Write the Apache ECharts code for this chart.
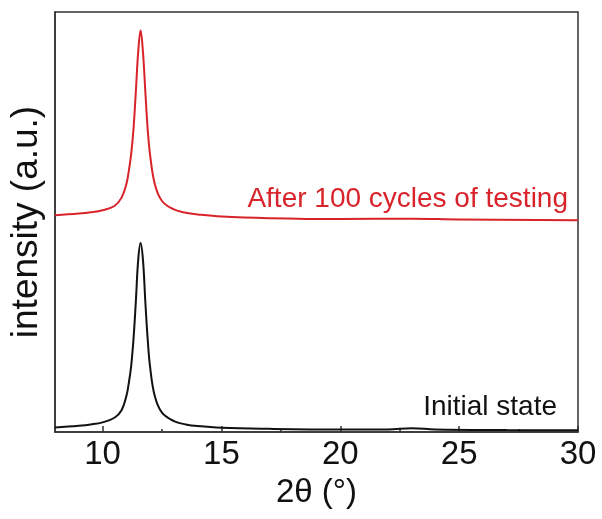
<!DOCTYPE html>
<html>
<head>
<meta charset="utf-8">
<script src="https://cdn.jsdelivr.net/npm/echarts@6/dist/echarts.min.js"></script>
<style>
  html, body { margin: 0; padding: 0; background: #fff; }
  #chart { width: 602px; height: 519px; }
</style>
</head>
<body>
<div id="chart"></div>
<script>
"use strict";

// 2theta positions (deg) and intensities
var initialX = [8.0, 9.0, 9.5, 10.0, 10.5, 10.8, 11.0, 11.1, 11.2, 11.3, 11.4, 11.5, 11.6,
                11.7, 11.8, 11.9, 12.0, 12.2, 12.5, 13.0, 13.5, 14.0, 15.0, 17.0, 20.0, 22.0, 23.0, 24.0, 27.0, 30.0];
var initialY = [1.1, 1.5, 1.8, 2.3, 3.4, 5.2, 8.5, 11.5, 15.5, 22, 31, 41, 45,
                41, 31, 22, 15.5, 8.5, 4.6, 2.6, 1.8, 1.4, 1.0, 0.75, 0.6, 0.6, 0.9, 0.6, 0.45, 0.4];

var cycledX = [8.0, 9.0, 9.5, 10.0, 10.5, 10.8, 11.0, 11.1, 11.2, 11.3, 11.4, 11.5, 11.6,
               11.7, 11.8, 11.9, 12.0, 12.2, 12.5, 13.0, 13.5, 14.0, 15.0, 17.0, 20.0, 23.0, 25.0, 30.0];
var cycledY = [51.6, 52.0, 52.3, 52.8, 53.8, 55.8, 59, 62, 66, 72, 81, 90.5, 95.6,
               90.5, 81, 72, 66, 59, 55, 53, 52.2, 51.8, 51.3, 50.9, 50.7, 50.8, 50.6, 50.4];

var majorTicks = [10, 15, 20, 25, 30];
var minorTicks = [12.5, 17.5, 22.5, 27.5];

var seriesNames = ['Initial state', 'After 100 cycles of testing'];

function pairs(xs, ys) {
  var out = [];
  for (var i = 0; i < xs.length; i++) out.push([xs[i], ys[i]]);
  return out;
}

var FONT = '"Liberation Sans", Arial, sans-serif';

var chart = echarts.init(document.getElementById('chart'));
var option = {
  animation: false,
  backgroundColor: '#fff',
  grid: {
    left: 55, right: 24, top: 12, bottom: 87,
    show: true, borderColor: '#333', borderWidth: 1.5, backgroundColor: 'transparent'
  },
  xAxis: [{
    type: 'value',
    min: 8, max: 30,
    name: '2θ (°)',
    nameLocation: 'middle',
    nameGap: 44,
    nameTextStyle: { fontFamily: FONT, fontSize: 33, color: '#111' },
    axisLine: { show: true, lineStyle: { color: '#333', width: 1.5 } },
    axisTick: { show: true, inside: true, length: 6, customValues: majorTicks, lineStyle: { color: '#333', width: 1.5 } },
    axisLabel: { show: true, customValues: majorTicks, margin: 6, fontFamily: FONT, fontSize: 33, color: '#111' },
    splitLine: { show: false }
  }, {
    type: 'value',
    min: 8, max: 30,
    position: 'bottom',
    axisLine: { show: false },
    axisTick: { show: true, inside: true, length: 3, customValues: minorTicks, lineStyle: { color: '#333', width: 1.5 } },
    axisLabel: { show: false },
    splitLine: { show: false }
  }],
  yAxis: {
    type: 'value',
    min: 0, max: 100,
    name: 'intensity (a.u.)',
    nameLocation: 'middle',
    nameGap: 10,
    nameTextStyle: { fontFamily: FONT, fontSize: 37, color: '#111' },
    axisLine: { show: true, lineStyle: { color: '#333', width: 1.5 } },
    axisTick: { show: false },
    axisLabel: { show: false },
    splitLine: { show: false }
  },
  series: [{
    name: seriesNames[0],
    type: 'line',
    data: pairs(initialX, initialY),
    smooth: 0.4,
    symbol: 'none',
    lineStyle: { color: '#111', width: 2 }
  }, {
    name: seriesNames[1],
    type: 'line',
    data: pairs(cycledX, cycledY),
    smooth: 0.4,
    symbol: 'none',
    lineStyle: { color: '#d9232b', width: 2 }
  }],
  graphic: [{
    type: 'text', right: 34, top: 185,
    style: { text: seriesNames[1], fontFamily: FONT, fontSize: 28, fill: '#d9232b' }
  }, {
    type: 'text', right: 45, top: 393,
    style: { text: seriesNames[0], fontFamily: FONT, fontSize: 28, fill: '#111' }
  }]
};
chart.setOption(option);
</script>
</body>
</html>
